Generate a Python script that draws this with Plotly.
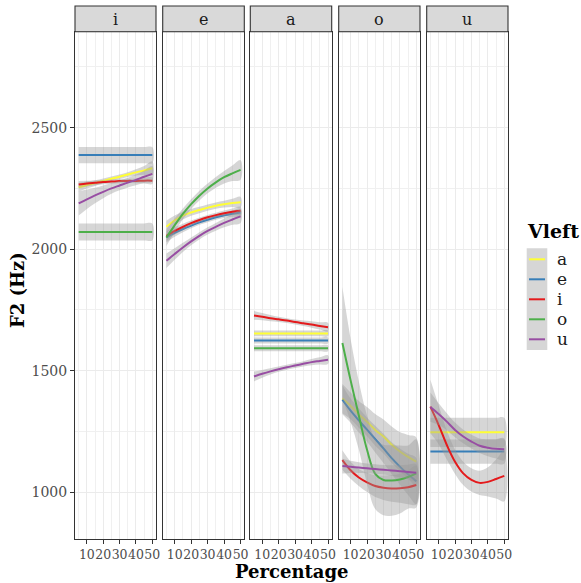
import plotly.graph_objects as go

# ---------------- data ----------------
PCT = [5, 10, 15, 20, 25, 30, 35, 40, 45, 50]
VOWELS = ["i", "e", "a", "o", "u"]
VLEFT = ["a", "e", "i", "o", "u"]
COLORS = ["#FFFF33", "#377EB8", "#E41A1C", "#4DAF4A", "#984EA3"]
Y_TICKS = [1000, 1500, 2000, 2500]
X_TICKS = [10, 20, 30, 40, 50]
X_MINOR = [5, 15, 25, 35, 45]

# smoothed F2 (Hz) per Vleft, panel "i"
F2_I = {
    "a": [2255, 2264, 2272, 2281, 2290, 2298, 2307, 2316, 2324, 2333],
    "e": [2387, 2387, 2387, 2387, 2387, 2387, 2387, 2387, 2387, 2387],
    "i": [2266, 2270, 2273, 2276, 2278, 2280, 2281, 2281, 2282, 2282],
    "o": [2071, 2071, 2071, 2071, 2071, 2071, 2071, 2071, 2071, 2071],
    "u": [2188, 2205, 2221, 2236, 2250, 2262, 2274, 2285, 2298, 2310],
}
SE_I = {
    "a": [18, 14, 12, 10, 9, 9, 10, 13, 18, 28],
    "e": [33, 33, 33, 33, 33, 33, 33, 33, 33, 33],
    "i": [15, 12, 10, 9, 9, 9, 9, 10, 12, 14],
    "o": [35, 35, 35, 35, 35, 35, 35, 35, 35, 35],
    "u": [50, 40, 32, 26, 22, 20, 20, 22, 26, 32],
}
# panel "e"
F2_E = {
    "a": [2092, 2118, 2138, 2151, 2161, 2171, 2179, 2185, 2190, 2193],
    "e": [2048, 2067, 2083, 2097, 2110, 2121, 2131, 2139, 2146, 2151],
    "i": [2055, 2075, 2092, 2107, 2120, 2131, 2140, 2148, 2154, 2158],
    "o": [2048, 2098, 2145, 2185, 2220, 2250, 2275, 2296, 2312, 2326],
    "u": [1952, 1980, 2007, 2032, 2055, 2075, 2092, 2108, 2122, 2135],
}
SE_E = {
    "a": [25, 20, 16, 14, 13, 13, 13, 14, 17, 22],
    "e": [20, 16, 13, 11, 10, 10, 10, 11, 13, 16],
    "i": [20, 16, 13, 11, 10, 10, 10, 11, 13, 16],
    "o": [35, 28, 22, 20, 20, 20, 22, 26, 32, 40],
    "u": [30, 24, 19, 16, 15, 15, 16, 18, 22, 27],
}
# panel "a"
F2_A = {
    "a": [1653, 1653, 1653, 1653, 1653, 1653, 1653, 1653, 1653, 1653],
    "e": [1624, 1624, 1624, 1624, 1624, 1624, 1624, 1624, 1624, 1624],
    "i": [1727, 1722, 1716, 1711, 1706, 1700, 1695, 1690, 1684, 1679],
    "o": [1592, 1592, 1592, 1592, 1592, 1592, 1592, 1592, 1592, 1592],
    "u": [1476, 1487, 1497, 1506, 1514, 1521, 1528, 1535, 1540, 1545],
}
SE_A = {
    "a": [12, 12, 12, 12, 12, 12, 12, 12, 12, 12],
    "e": [12, 12, 12, 12, 12, 12, 12, 12, 12, 12],
    "i": [18, 15, 13, 11, 10, 10, 11, 13, 15, 18],
    "o": [12, 12, 12, 12, 12, 12, 12, 12, 12, 12],
    "u": [20, 16, 13, 11, 10, 10, 11, 13, 15, 18],
}
# panel "o"
F2_O = {
    "a": [1385, 1355, 1320, 1290, 1256, 1229, 1195, 1167, 1145, 1125],
    "e": [1380, 1335, 1295, 1257, 1218, 1180, 1140, 1105, 1073, 1045],
    "i": [1132, 1090, 1060, 1040, 1025, 1018, 1015, 1016, 1020, 1029],
    "o": [1614, 1460, 1315, 1174, 1075, 1050, 1048, 1052, 1062, 1077],
    "u": [1107, 1104, 1101, 1098, 1095, 1092, 1089, 1086, 1083, 1080],
}
SE_O = {
    "a": [60, 55, 55, 60, 65, 70, 75, 80, 90, 100],
    "e": [60, 50, 50, 50, 55, 60, 65, 75, 85, 95],
    "i": [40, 35, 35, 40, 45, 50, 55, 60, 70, 80],
    "o": [230, 170, 140, 140, 145, 145, 145, 140, 130, 140],
    "u": [30, 25, 22, 20, 20, 20, 22, 25, 30, 35],
}
# panel "u"
F2_U = {
    "a": [1246, 1246, 1246, 1246, 1246, 1246, 1246, 1246, 1246, 1246],
    "e": [1167, 1167, 1167, 1167, 1167, 1167, 1167, 1167, 1167, 1167],
    "i": [1352, 1277, 1194, 1125, 1077, 1050, 1038, 1042, 1054, 1067],
    "u": [1350, 1321, 1290, 1256, 1229, 1208, 1191, 1183, 1178, 1176],
}
SE_U = {
    "a": [60, 60, 60, 60, 60, 60, 60, 60, 60, 60],
    "e": [50, 50, 50, 50, 50, 50, 50, 50, 50, 50],
    "i": [110, 80, 60, 50, 48, 48, 50, 60, 80, 105],
    "u": [60, 45, 35, 30, 28, 28, 30, 35, 40, 45],
}

PANELS = {"i": (F2_I, SE_I), "e": (F2_E, SE_E), "a": (F2_A, SE_A),
          "o": (F2_O, SE_O), "u": (F2_U, SE_U)}

# ---------------- layout geometry ----------------
W, H = 581, 583
ML, MR, MT, MB = 75, 73, 6, 44
PW, PH = W - ML - MR, H - MT - MB
PANEL_PX = [(75, 156), (162.7, 244.3), (250.3, 331.7), (338.7, 420), (426.7, 508)]
PANEL_TOP = 31.7


def px_x(px):
    return (px - ML) / PW


def px_y(py):
    return (H - MB - py) / PH


SERIF = "DejaVu Serif"
fig = go.Figure()

for k, vowel in enumerate(VOWELS):
    f2, se = PANELS[vowel]
    xa = "x" if k == 0 else f"x{k+1}"
    ya = "y" if k == 0 else f"y{k+1}"
    for vl, col in zip(VLEFT, COLORS):
        if vl not in f2:
            continue
        m, s = f2[vl], se[vl]
        upper = [a + b for a, b in zip(m, s)]
        lower = [a - b for a, b in zip(m, s)]
        fig.add_trace(go.Scatter(
            x=PCT + PCT[::-1], y=upper + lower[::-1], fill="toself",
            fillcolor="rgba(153,153,153,0.4)", line=dict(width=0, shape="spline"),
            mode="lines", hoverinfo="skip", showlegend=False, xaxis=xa, yaxis=ya))
        fig.add_trace(go.Scatter(
            x=PCT, y=m, mode="lines", line=dict(color=col, width=2, shape="spline"),
            name=vl, showlegend=False, xaxis=xa, yaxis=ya))

axis_common = dict(showline=True, mirror=True, linecolor="#333333", linewidth=1.1,
                   zeroline=False, gridcolor="#ebebeb", gridwidth=1.1)
layout = dict(width=W, height=H, margin=dict(l=ML, r=MR, t=MT, b=MB),
              plot_bgcolor="white", paper_bgcolor="white", showlegend=False,
              font=dict(family=SERIF, color="#1a1a1a"))
for k in range(5):
    xk = "xaxis" if k == 0 else f"xaxis{k+1}"
    yk = "yaxis" if k == 0 else f"yaxis{k+1}"
    x0, x1 = PANEL_PX[k]
    layout[xk] = dict(axis_common, domain=[px_x(x0), px_x(x1)], range=[2.75, 52.25],
                      tickmode="array", tickvals=X_TICKS, ticks="outside", ticklen=4,
                      tickcolor="#333333", tickwidth=1.1, tickangle=0,
                      tickfont=dict(family=SERIF, size=12.5, color="#4d4d4d"),
                      minor=dict(tickvals=X_MINOR, showgrid=True, gridcolor="#f0f0f0",
                                 gridwidth=0.7, ticks=""),
                      anchor="y" if k == 0 else f"y{k+1}")
    layout[yk] = dict(axis_common, domain=[0, px_y(PANEL_TOP)], range=[807, 2895],
                      tickmode="array", tickvals=Y_TICKS,
                      ticks="outside" if k == 0 else "", ticklen=4, tickcolor="#333333",
                      tickwidth=1.1, showticklabels=(k == 0),
                      tickfont=dict(family=SERIF, size=14, color="#4d4d4d"),
                      minor=dict(dtick=250, tick0=0, showgrid=True, gridcolor="#f0f0f0",
                                 gridwidth=0.7, ticks=""),
                      anchor="x" if k == 0 else f"x{k+1}")
fig.update_layout(**layout)

shapes, annotations = [], []
for k, vowel in enumerate(VOWELS):
    x0, x1 = PANEL_PX[k]
    shapes.append(dict(type="rect", xref="paper", yref="paper",
                       x0=px_x(x0), x1=px_x(x1), y0=px_y(PANEL_TOP), y1=px_y(6),
                       fillcolor="#d9d9d9", line=dict(color="#333333", width=1.1),
                       layer="above"))
    annotations.append(dict(text=vowel, xref="paper", yref="paper",
                            x=px_x((x0 + x1) / 2), y=px_y(19), showarrow=False,
                            font=dict(family=SERIF, size=16, color="#1a1a1a"),
                            xanchor="center", yanchor="middle"))

# axis titles
annotations.append(dict(text="<b>Percentage</b>", xref="paper", yref="paper",
                        x=px_x(291.5), y=px_y(571), showarrow=False,
                        font=dict(family=SERIF, size=18, color="black"),
                        xanchor="center", yanchor="middle"))
annotations.append(dict(text="<b>F2 (Hz)</b>", xref="paper", yref="paper",
                        x=px_x(18), y=px_y(290), showarrow=False, textangle=-90,
                        font=dict(family=SERIF, size=18, color="black"),
                        xanchor="center", yanchor="middle"))

# legend (drawn)
annotations.append(dict(text="<b>Vleft</b>", xref="paper", yref="paper",
                        x=px_x(525), y=px_y(231), showarrow=False,
                        font=dict(family=SERIF, size=19, color="black"),
                        xanchor="left", yanchor="middle"))
shapes.append(dict(type="rect", xref="paper", yref="paper",
                   x0=px_x(526.7), x1=px_x(547.3), y0=px_y(350), y1=px_y(248.3),
                   fillcolor="#d6d6d6", line=dict(width=0)))
for j, (vl, col) in enumerate(zip(VLEFT, COLORS)):
    yy = 259.3 + 20 * j
    shapes.append(dict(type="line", xref="paper", yref="paper",
                       x0=px_x(529), x1=px_x(545), y0=px_y(yy), y1=px_y(yy),
                       line=dict(color=col, width=2)))
    annotations.append(dict(text=vl, xref="paper", yref="paper",
                            x=px_x(555), y=px_y(yy), showarrow=False,
                            font=dict(family=SERIF, size=17, color="#1a1a1a"),
                            xanchor="left", yanchor="middle"))

fig.update_layout(shapes=shapes, annotations=annotations)
fig.write_html("out.html")
